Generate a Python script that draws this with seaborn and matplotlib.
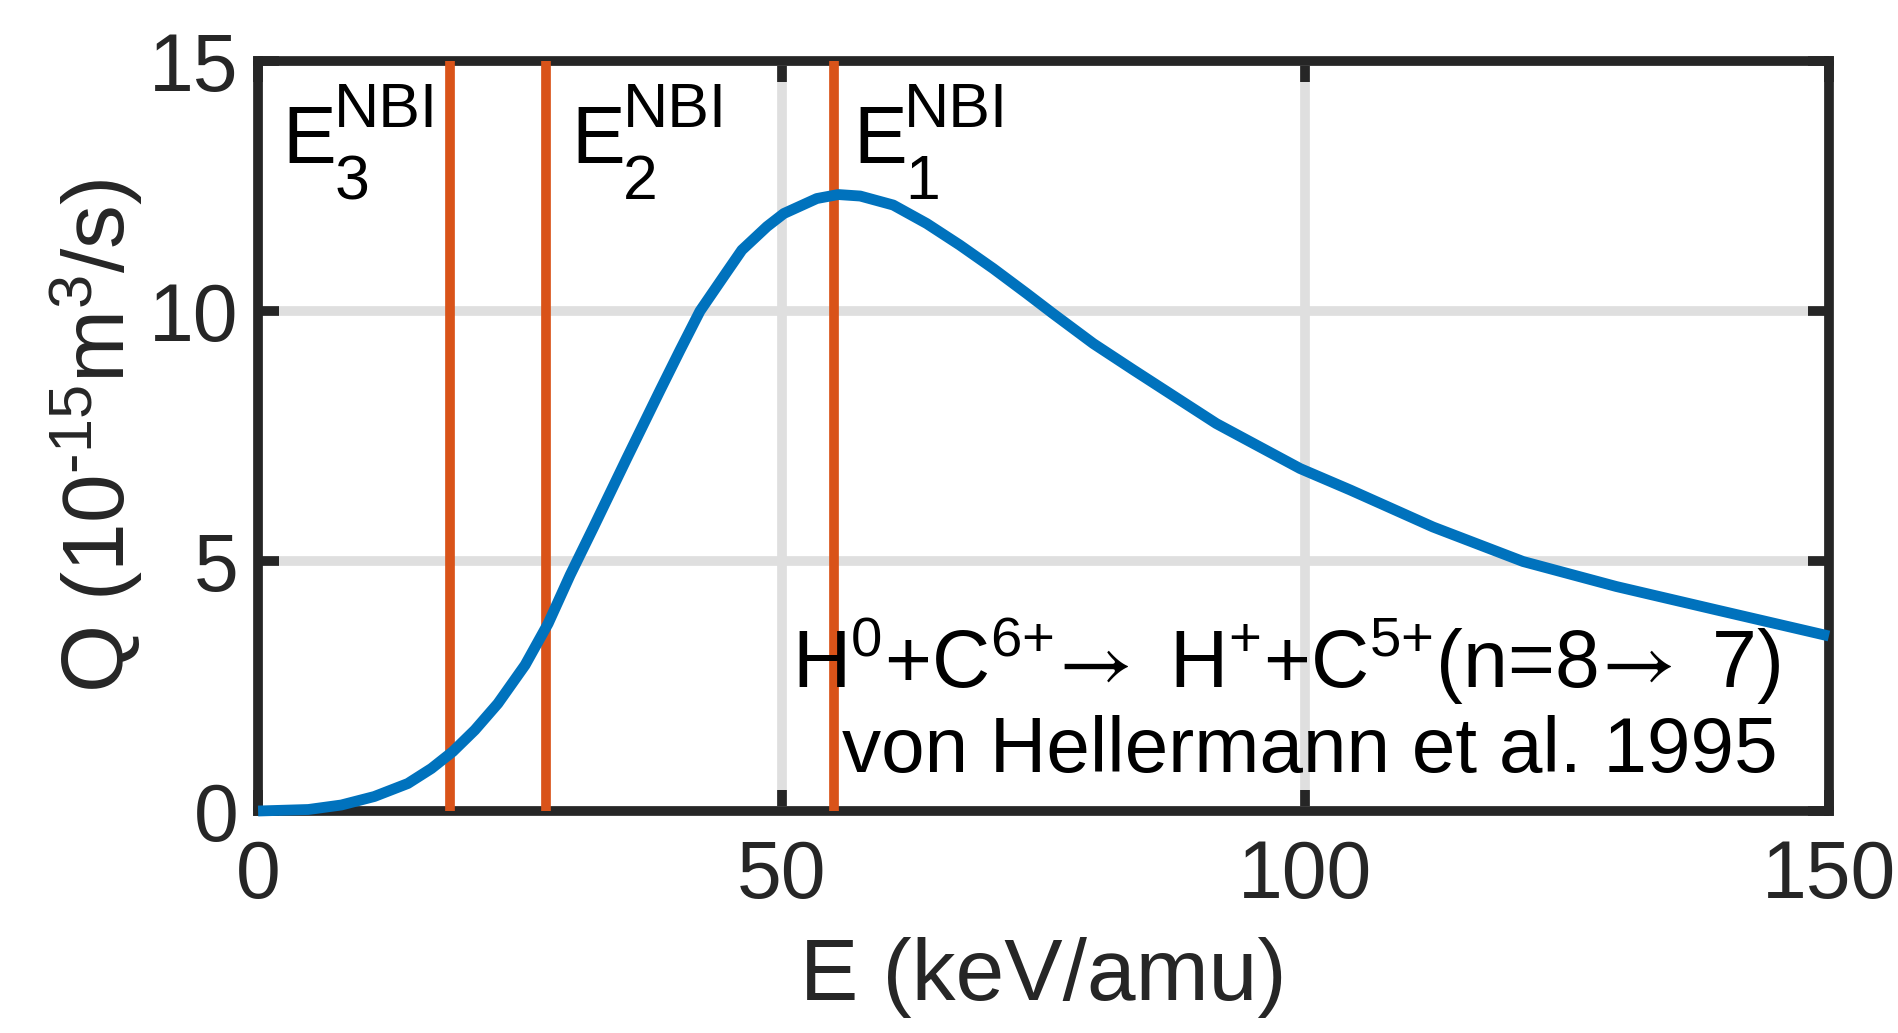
import numpy as np
import pandas as pd
import matplotlib
matplotlib.use("Agg")
import matplotlib.pyplot as plt
import seaborn as sns

# Data
energy = [0, 4.8, 7.95, 11.1, 14.3, 16.55, 18.6, 20.7, 22.9, 25.5, 27.7, 29.8, 32.0, 35.2, 38.4,
          40.3, 42.2, 44.75, 46.2, 48.6, 50.2, 53.35, 55.4, 57.5, 60.65, 63.85, 67.0, 70.2, 73.4,
          75.9, 79.75, 83.6, 91.5, 99.5, 104.3, 109.0, 112.2, 120.8, 129.7, 139.3, 150]
q_rate = [0.0, 0.03, 0.12, 0.29, 0.55, 0.85, 1.19, 1.62, 2.15, 2.92, 3.75, 4.72, 5.66, 7.05, 8.42,
          9.22, 10.0, 10.78, 11.22, 11.69, 11.95, 12.25, 12.33, 12.30, 12.12, 11.75, 11.32, 10.85, 10.35,
          9.95, 9.35, 8.82, 7.75, 6.85, 6.42, 5.98, 5.68, 4.99, 4.49, 4.02, 3.5]
nbi_energies = [18.33, 27.5, 55.0]
nbi_index = ["3", "2", "1"]
nbi_label_x = [2.35, 29.88, 56.8]
xticks = [0, 50, 100, 150]
yticks = [0, 5, 10, 15]
reaction_text = (r"H$^{\text{0}}$+C$^{\text{6+}}$$\!\mathsf{\rightarrow}$ H$^{\text{+}}$+C$^{\text{5+}}$"
                 r"(n=8$\!\mathsf{\rightarrow}$ 7)")
source_text = "von Hellermann et al. 1995"

df = pd.DataFrame({"E": energy, "Q": q_rate})

sns.set_theme(style="whitegrid")
plt.rcParams["font.family"] = ["Liberation Sans", "DejaVu Sans"]
plt.rcParams["mathtext.fontset"] = "custom"
plt.rcParams["mathtext.rm"] = "Liberation Sans"
plt.rcParams["mathtext.it"] = "Liberation Sans"
plt.rcParams["mathtext.bf"] = "Liberation Sans:bold"
plt.rcParams["mathtext.sf"] = "STIXGeneral"
plt.rcParams["mathtext.default"] = "regular"

fig = plt.figure(figsize=(18.99, 10.33), dpi=100)
ax = fig.add_axes([0.1359, 0.2149, 0.9631 - 0.1359, 0.9409 - 0.2149])
ax.set_facecolor("white")

ax.grid(True, color="#dfdfdf", linewidth=7)
ax.set_axisbelow(True)

sns.lineplot(data=df, x="E", y="Q", ax=ax, color="#0072BD", linewidth=7.8, zorder=8)
for ln in ax.lines:
    ln.set_solid_joinstyle("round")
    ln.set_solid_capstyle("butt")
    ln.set_clip_on(False)

for xe in nbi_energies:
    ax.axvline(xe, color="#D95319", linewidth=7, zorder=7, solid_capstyle="butt")

base_y = 12.96
for idx, lx in zip(nbi_index, nbi_label_x):
    ax.text(lx, base_y, "E", fontsize=58, color="black", ha="left", va="baseline", zorder=9)
    ax.annotate("NBI", xy=(lx, base_y), xytext=(37, 26), textcoords="offset points",
                fontsize=45, color="black", ha="left", va="baseline", zorder=9)
    ax.annotate(idx, xy=(lx, base_y), xytext=(37.5, -26), textcoords="offset points",
                fontsize=45, color="black", ha="left", va="baseline", zorder=9)

ax.text(145.3, 2.49, reaction_text, fontsize=58, color="black", ha="right", va="baseline", zorder=9)
ax.text(145.1, 0.79, source_text, fontsize=56.3, color="black", ha="right", va="baseline", zorder=9)

ax.set_xlim(0, 150)
ax.set_ylim(0, 15)
ax.set_xticks(xticks)
ax.set_yticks(yticks)
ax.tick_params(axis="both", which="both", direction="in", length=15, width=7,
               color="#262626", labelcolor="#262626", labelsize=58,
               top=True, right=True, bottom=True, left=True)
ax.tick_params(axis="x", pad=20)
ax.tick_params(axis="y", pad=14)

for s in ax.spines.values():
    s.set_visible(True)
    s.set_color("#262626")
    s.set_linewidth(7)

ax.set_xlabel("E (keV/amu)", fontsize=63, color="#262626")
ax.set_ylabel(r"Q (10$^{\text{-15}}$m$^{\text{3}}$/s)", fontsize=63, color="#262626")
ax.xaxis.set_label_coords(0.5, -0.168)
ax.yaxis.set_label_coords(-0.072, 0.5)

fig.savefig("out.png", dpi=100, facecolor="white")
